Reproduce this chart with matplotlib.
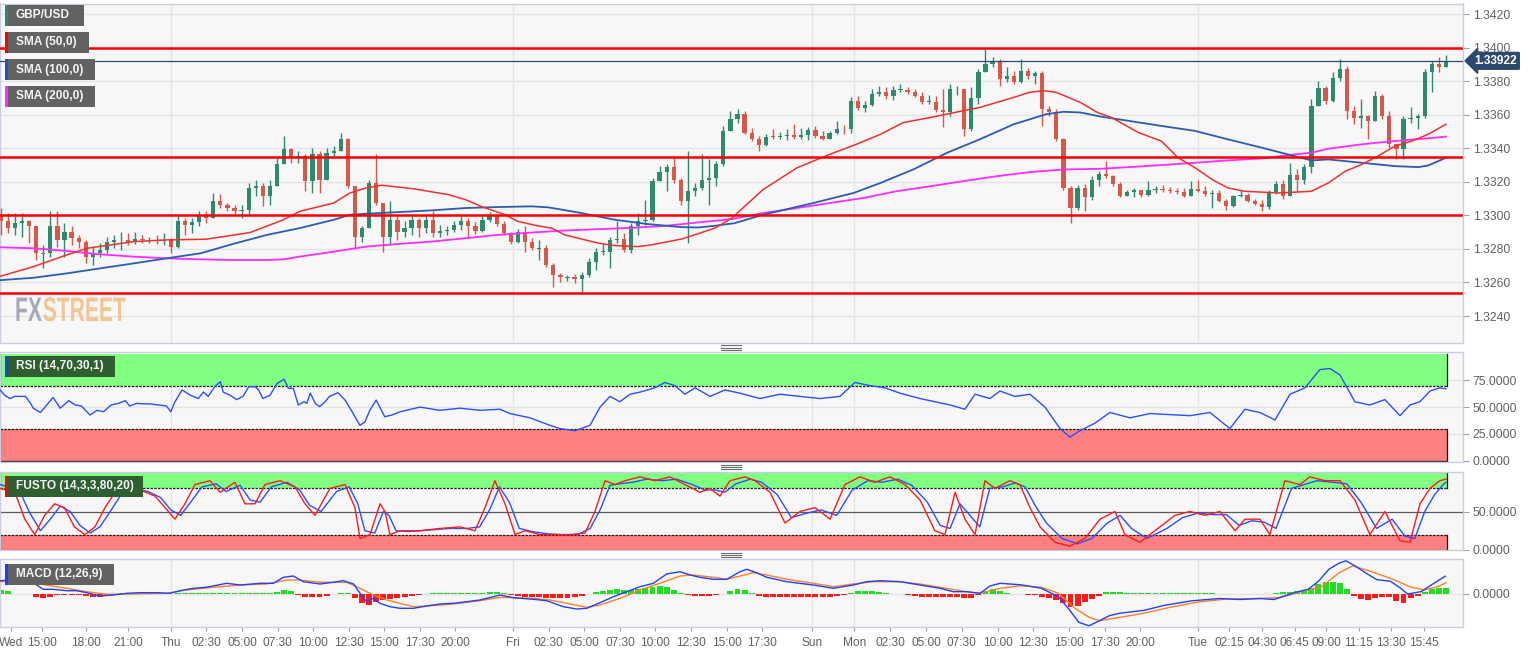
import numpy as np
import matplotlib.pyplot as plt
from matplotlib.patches import Rectangle, PathPatch
from matplotlib.lines import Line2D
from matplotlib.textpath import TextPath
from matplotlib.font_manager import FontProperties
from matplotlib.transforms import Affine2D

plt.rcParams['font.family'] = ['Liberation Sans', 'DejaVu Sans']

# ---- data -----------------------------------------------------------------
# chart hours: Thu 00:00 = 24 (weekend removed), 30-min candles
t_start, step = 12.0, 0.5
open_first = 1.32994
close = [
    1.32964, 1.32924, 1.32954, 1.32964, 1.32934, 1.32774, 1.32774, 1.32934, 1.32854, 1.32904,
    1.32864, 1.32844, 1.32754, 1.32774, 1.32794, 1.32844, 1.32854, 1.32854, 1.32844, 1.32858,
    1.32854, 1.32854, 1.32850, 1.32854, 1.32814, 1.32964, 1.32944, 1.32958, 1.32994, 1.32984,
    1.33084, 1.33064, 1.33044, 1.33024, 1.33034, 1.33164, 1.33174, 1.33114, 1.33174, 1.33304,
    1.33394, 1.33344, 1.33354, 1.33204, 1.33364, 1.33214, 1.33374, 1.33384, 1.33454, 1.33174,
    1.32874, 1.32924, 1.33194, 1.33074, 1.32874, 1.32974, 1.32904, 1.32924, 1.32974, 1.32924,
    1.32974, 1.32894, 1.32910, 1.32914, 1.32944, 1.32964, 1.32934, 1.32910, 1.32974, 1.32994,
    1.32950, 1.32894, 1.32844, 1.32904, 1.32844, 1.32804, 1.32804, 1.32704, 1.32644, 1.32630,
    1.32630, 1.32618, 1.32644, 1.32724, 1.32784, 1.32784, 1.32854, 1.32858, 1.32794, 1.32934,
    1.32964, 1.32974, 1.33204, 1.33258, 1.33290, 1.33214, 1.33084, 1.33144, 1.33164, 1.33214,
    1.33224, 1.33304, 1.33504, 1.33574, 1.33604, 1.33494, 1.33458, 1.33418, 1.33470, 1.33468,
    1.33474, 1.33478, 1.33470, 1.33480, 1.33510, 1.33474, 1.33458, 1.33490, 1.33518, 1.33514,
    1.33684, 1.33638, 1.33660, 1.33724, 1.33738, 1.33710, 1.33750, 1.33750, 1.33738, 1.33714,
    1.33678, 1.33678, 1.33628, 1.33618, 1.33754, 1.33754, 1.33518, 1.33698, 1.33854, 1.33904,
    1.33914, 1.33814, 1.33830, 1.33798, 1.33864, 1.33830, 1.33850, 1.33634, 1.33618, 1.33454,
    1.33164, 1.33044, 1.33164, 1.33110, 1.33214, 1.33250, 1.33238, 1.33190, 1.33118, 1.33138,
    1.33150, 1.33124, 1.33150, 1.33158, 1.33154, 1.33148, 1.33140, 1.33114, 1.33160, 1.33148,
    1.33130, 1.33134, 1.33088, 1.33054, 1.33114, 1.33124, 1.33088, 1.33070, 1.33048, 1.33140,
    1.33190, 1.33114, 1.33244, 1.33210, 1.33290, 1.33654, 1.33758, 1.33684, 1.33818, 1.33874,
    1.33624, 1.33584, 1.33590, 1.33564, 1.33710, 1.33590, 1.33424, 1.33398, 1.33574, 1.33584,
    1.33590, 1.33854, 1.33904, 1.33884, 1.33922,
]
high = [
    1.33044, 1.33014, 1.33014, 1.33014, 1.32974, 1.32904, 1.32824, 1.33024, 1.33024, 1.32954,
    1.32934, 1.32884, 1.32854, 1.32814, 1.32834, 1.32874, 1.32884, 1.32904, 1.32894, 1.32904,
    1.32884, 1.32874, 1.32884, 1.32894, 1.32864, 1.33004, 1.32984, 1.32984, 1.33024, 1.33024,
    1.33134, 1.33130, 1.33074, 1.33064, 1.33064, 1.33194, 1.33214, 1.33194, 1.33214, 1.33344,
    1.33474, 1.33404, 1.33384, 1.33364, 1.33404, 1.33384, 1.33404, 1.33414, 1.33490, 1.33464,
    1.33174, 1.32934, 1.33214, 1.33364, 1.33074, 1.33084, 1.32994, 1.32964, 1.33004, 1.32984,
    1.33004, 1.33024, 1.32944, 1.32938, 1.32964, 1.32994, 1.32984, 1.32958, 1.32994, 1.33018,
    1.33004, 1.32964, 1.32904, 1.32918, 1.32934, 1.32864, 1.32854, 1.32824, 1.32714, 1.32654,
    1.32644, 1.32648, 1.32664, 1.32744, 1.32804, 1.32838, 1.32874, 1.32964, 1.32894, 1.32954,
    1.33014, 1.33094, 1.33224, 1.33294, 1.33304, 1.33354, 1.33224, 1.33384, 1.33194, 1.33364,
    1.33334, 1.33324, 1.33534, 1.33624, 1.33634, 1.33624, 1.33524, 1.33474, 1.33484, 1.33514,
    1.33498, 1.33514, 1.33544, 1.33524, 1.33530, 1.33534, 1.33504, 1.33504, 1.33564, 1.33538,
    1.33704, 1.33710, 1.33684, 1.33754, 1.33774, 1.33764, 1.33774, 1.33784, 1.33764, 1.33754,
    1.33734, 1.33718, 1.33714, 1.33754, 1.33784, 1.33774, 1.33744, 1.33764, 1.33874, 1.33994,
    1.33944, 1.33934, 1.33884, 1.33864, 1.33934, 1.33878, 1.33864, 1.33864, 1.33654, 1.33634,
    1.33464, 1.33178, 1.33184, 1.33190, 1.33234, 1.33264, 1.33324, 1.33244, 1.33198, 1.33154,
    1.33164, 1.33154, 1.33204, 1.33174, 1.33184, 1.33168, 1.33164, 1.33164, 1.33204, 1.33214,
    1.33178, 1.33154, 1.33150, 1.33098, 1.33124, 1.33154, 1.33134, 1.33100, 1.33090, 1.33154,
    1.33204, 1.33214, 1.33314, 1.33274, 1.33304, 1.33694, 1.33804, 1.33774, 1.33854, 1.33934,
    1.33894, 1.33654, 1.33694, 1.33598, 1.33744, 1.33724, 1.33624, 1.33424, 1.33594, 1.33644,
    1.33604, 1.33874, 1.33924, 1.33944, 1.33954,
]
low = [
    1.32884, 1.32894, 1.32884, 1.32874, 1.32834, 1.32734, 1.32684, 1.32754, 1.32814, 1.32754,
    1.32824, 1.32804, 1.32714, 1.32704, 1.32754, 1.32774, 1.32804, 1.32794, 1.32824, 1.32830,
    1.32834, 1.32834, 1.32830, 1.32824, 1.32774, 1.32804, 1.32884, 1.32894, 1.32934, 1.32954,
    1.32984, 1.33044, 1.33024, 1.32994, 1.32984, 1.33004, 1.33114, 1.33054, 1.33064, 1.33174,
    1.33314, 1.33314, 1.33314, 1.33144, 1.33134, 1.33134, 1.33214, 1.33354, 1.33384, 1.33164,
    1.32798, 1.32844, 1.32924, 1.33064, 1.32784, 1.32824, 1.32854, 1.32874, 1.32884, 1.32874,
    1.32894, 1.32874, 1.32874, 1.32884, 1.32904, 1.32914, 1.32874, 1.32890, 1.32904, 1.32958,
    1.32934, 1.32884, 1.32830, 1.32838, 1.32784, 1.32794, 1.32734, 1.32694, 1.32574, 1.32604,
    1.32610, 1.32598, 1.32544, 1.32634, 1.32674, 1.32764, 1.32684, 1.32834, 1.32784, 1.32774,
    1.32884, 1.32944, 1.32964, 1.33204, 1.33144, 1.33194, 1.33064, 1.32834, 1.33114, 1.33154,
    1.33064, 1.33174, 1.33294, 1.33504, 1.33554, 1.33484, 1.33444, 1.33384, 1.33414, 1.33454,
    1.33458, 1.33450, 1.33458, 1.33458, 1.33450, 1.33462, 1.33448, 1.33454, 1.33484, 1.33488,
    1.33494, 1.33630, 1.33618, 1.33654, 1.33710, 1.33694, 1.33688, 1.33734, 1.33724, 1.33704,
    1.33664, 1.33664, 1.33618, 1.33530, 1.33590, 1.33718, 1.33474, 1.33504, 1.33664, 1.33858,
    1.33884, 1.33774, 1.33794, 1.33784, 1.33790, 1.33814, 1.33784, 1.33534, 1.33594, 1.33444,
    1.33154, 1.32954, 1.33034, 1.33024, 1.33094, 1.33174, 1.33224, 1.33174, 1.33110, 1.33114,
    1.33110, 1.33110, 1.33118, 1.33134, 1.33138, 1.33134, 1.33128, 1.33108, 1.33118, 1.33138,
    1.33118, 1.33044, 1.33078, 1.33034, 1.33048, 1.33108, 1.33078, 1.33060, 1.33024, 1.33038,
    1.33130, 1.33098, 1.33158, 1.33138, 1.33190, 1.33254, 1.33674, 1.33664, 1.33674, 1.33804,
    1.33574, 1.33544, 1.33524, 1.33454, 1.33564, 1.33574, 1.33404, 1.33334, 1.33338, 1.33554,
    1.33514, 1.33584, 1.33734, 1.33854, 1.33904,
]

# moving averages (hour, price)
sma50_t = [12.0, 14.3, 16.65, 18.1, 21.4, 23.7, 26.5, 29.6, 31.95, 33.1, 35.5, 36.65, 37.8, 38.9,
           41.2, 43.6, 44.8, 45.9, 47.6, 48.5, 49.9, 50.9, 51.8, 54.2, 55.35, 57.0, 57.9, 60.1,
           62.4, 63.6, 65.8, 68.2, 70.5, 72.2, 74.1, 75.7, 77.6, 79.9, 81.1, 83.5, 84.6, 85.6,
           86.5, 88.2, 89.4, 90.4, 92.3, 93.9, 95.1, 96.3, 97.5, 98.6, 99.8, 102.2, 104.5, 105.7,
           106.9, 108.05, 109.2, 110.4, 111.6, 112.75, 114.0]
sma50_v = [1.32638, 1.32694, 1.32764, 1.32804, 1.32844, 1.32854, 1.32858, 1.32898, 1.32974, 1.33024,
           1.33074, 1.33134, 1.33164, 1.33180, 1.33158, 1.33124, 1.33094, 1.33054, 1.33004, 1.32964,
           1.32938, 1.32924, 1.32884, 1.32834, 1.32820, 1.32814, 1.32824, 1.32860, 1.32924, 1.32984,
           1.33154, 1.33284, 1.33364, 1.33418, 1.33484, 1.33554, 1.33584, 1.33624, 1.33644, 1.33704,
           1.33734, 1.33744, 1.33734, 1.33674, 1.33614, 1.33584, 1.33494, 1.33444, 1.33344, 1.33284,
           1.33214, 1.33164, 1.33144, 1.33134, 1.33144, 1.33194, 1.33264, 1.33304, 1.33354, 1.33414,
           1.33444, 1.33484, 1.33544]
sma100_t = [12.0, 14.3, 16.65, 19.0, 21.4, 23.7, 26.1, 28.4, 30.8, 33.1, 35.5, 36.65, 37.8, 40.1,
            42.4, 44.8, 47.1, 49.5, 50.65, 53.0, 55.35, 57.7, 60.1, 61.2, 62.4, 63.8, 65.8, 69.35,
            72.2, 74.1, 76.4, 78.8, 81.1, 83.5, 85.8, 87.0, 88.2, 89.6, 91.6, 93.9, 96.3, 98.6,
            101.0, 103.3, 104.5, 105.7, 108.05, 110.4, 112.05, 112.75, 114.0]
sma100_v = [1.32614, 1.32628, 1.32654, 1.32684, 1.32714, 1.32744, 1.32774, 1.32830, 1.32884, 1.32924,
            1.32974, 1.33004, 1.33010, 1.33020, 1.33030, 1.33044, 1.33050, 1.33054, 1.33048, 1.33014,
            1.32974, 1.32948, 1.32930, 1.32928, 1.32938, 1.32954, 1.33004, 1.33074, 1.33134, 1.33194,
            1.33274, 1.33374, 1.33454, 1.33544, 1.33604, 1.33618, 1.33614, 1.33590, 1.33564, 1.33534,
            1.33504, 1.33454, 1.33404, 1.33354, 1.33328, 1.33334, 1.33314, 1.33294, 1.33288, 1.33298,
            1.33344]
sma200_t = [12.0, 14.3, 16.65, 19.0, 21.4, 23.7, 26.1, 28.4, 30.8, 31.95, 33.1, 35.5, 37.8, 40.1,
            42.4, 44.8, 47.1, 49.5, 51.8, 54.2, 56.5, 58.9, 61.2, 63.6, 65.8, 68.2, 70.5, 72.9,
            75.2, 77.6, 79.9, 82.3, 84.6, 87.0, 89.6, 91.6, 93.9, 96.3, 98.6, 101.0, 103.3, 104.5,
            105.7, 108.05, 110.4, 112.75, 114.0]
sma200_v = [1.32810, 1.32804, 1.32788, 1.32768, 1.32754, 1.32744, 1.32738, 1.32734, 1.32734, 1.32738,
            1.32754, 1.32784, 1.32814, 1.32830, 1.32844, 1.32864, 1.32884, 1.32898, 1.32910, 1.32918,
            1.32926, 1.32938, 1.32958, 1.32978, 1.33014, 1.33044, 1.33074, 1.33104, 1.33144, 1.33174,
            1.33204, 1.33234, 1.33258, 1.33274, 1.33278, 1.33288, 1.33300, 1.33314, 1.33328, 1.33340,
            1.33364, 1.33374, 1.33398, 1.33424, 1.33444, 1.33460, 1.33470]

levels = [1.3400, 1.3335, 1.3300, 1.3254]
last_price = 1.33922

# RSI (14)
rsi_t = [11.95, 12.3, 12.65, 13.0, 13.4, 13.75, 14.1, 14.3, 14.8, 15.25, 15.7, 16.2, 16.8, 17.25,
         17.7, 18.3, 18.8, 19.25, 19.8, 20.3, 20.8, 21.1, 21.6, 22.1, 22.55, 23.1, 23.7, 24.0,
         24.3, 24.8, 25.4, 25.95, 26.3, 26.65, 27.1, 27.5, 27.7, 28.2, 28.65, 29.1, 29.5, 29.95,
         30.2, 30.5, 31.0, 31.5, 32.0, 32.3, 32.65, 33.0, 33.4, 33.6, 33.85, 34.2, 34.5, 34.9,
         35.2, 35.8, 36.3, 36.8, 37.35, 37.7, 38.05, 38.5, 39.1, 39.6, 40.2, 41.59, 43.0, 44.41,
         45.82, 47.24, 47.94, 48.65, 49.35, 50.76, 51.47, 52.53, 53.59, 54.3, 55.0, 55.7, 56.41,
         57.12, 58.17, 58.88, 59.59, 60.29, 61.0, 62.06, 63.11, 64.17, 65.58, 66.99, 68.41, 69.82,
         71.23, 72.29, 73.35, 74.41, 75.47, 76.88, 77.93, 79.0, 80.05, 80.76, 81.82, 82.52, 83.58,
         84.64, 85.7, 86.76, 87.46, 88.17, 89.23, 90.28, 91.7, 93.11, 94.52, 95.93, 97.34, 98.75,
         99.81, 100.87, 101.93, 102.99, 104.05, 105.1, 105.81, 106.52, 107.57, 108.63, 109.69,
         110.75, 111.46, 112.16, 112.87, 113.57, 114.0]
rsi_v = [66, 61, 58, 60, 60, 60, 53.5, 49, 45, 52, 59, 49, 56, 52,
         51, 42.6, 47, 45.7, 52, 53.5, 56, 51, 53.5, 53, 53, 52, 51, 45.7,
         55, 66, 61, 58, 64, 60, 69, 73.7, 64, 61, 57, 60, 69, 69,
         66, 58, 61, 72, 76, 67.5, 67.5, 52, 55, 53.5, 63, 53.5, 50.4, 55,
         60, 63.4, 56.6, 45.7, 33, 36, 47, 56.6, 41, 42.6, 45.7, 50, 47, 49,
         47, 48, 44, 42, 40, 33, 30, 28, 33, 50, 60, 55, 62,
         64, 68, 73, 70, 62, 68, 60, 66, 63, 58, 62, 60, 58,
         60, 73, 70, 68, 63, 58, 55, 52, 48, 62, 58, 65, 60,
         62, 50, 30, 22, 28, 35, 45, 40, 44, 43, 42, 45, 30,
         48, 45, 38, 62, 68, 85, 86, 80, 55, 52, 57,
         42, 52, 55, 65, 68, 67]

# Full stochastic (14,3,3): %K red, %D blue
stk_t = [11.95, 13.0, 13.7, 14.4, 15.1, 15.8, 16.5, 17.2, 17.95, 18.65, 19.36, 20.07, 20.77, 21.83,
         22.89, 23.6, 24.3, 25.0, 25.71, 26.77, 27.48, 28.53, 29.24, 29.95, 30.65, 31.71, 32.77,
         33.47, 34.18, 35.24, 36.3, 37.0, 37.36, 38.06, 38.77, 39.12, 39.47, 40.18, 41.59, 43.0,
         44.41, 45.47, 46.18, 46.88, 47.59, 48.3, 49.0, 50.06, 51.12, 52.18, 53.24, 53.94, 54.65,
         55.35, 56.06, 57.12, 58.17, 59.23, 60.29, 61.35, 62.06, 62.76, 63.47, 64.53, 65.23, 66.29,
         67.35, 68.41, 69.47, 70.53, 71.58, 72.64, 73.7, 74.76, 75.82, 76.88, 77.93, 78.64, 79.35,
         80.05, 80.76, 81.46, 82.17, 83.23, 83.93, 84.64, 85.35, 86.4, 87.46, 88.52, 89.58, 90.64,
         91.34, 92.4, 93.81, 94.87, 95.93, 96.99, 98.05, 99.11, 99.81, 100.87, 101.57, 102.63,
         103.69, 104.4, 105.46, 106.52, 107.57, 108.63, 109.69, 110.75, 111.46, 112.16, 112.87,
         113.57, 114.0]
stk_v = [80, 75, 40, 20, 45, 60, 55, 30, 20, 30, 55, 75, 80, 78,
         70, 55, 40, 60, 85, 90, 75, 88, 60, 60, 85, 90, 82,
         60, 45, 80, 85, 55, 15, 20, 60, 50, 20, 25, 25, 28,
         30, 25, 55, 90, 60, 20, 25, 20, 20, 20, 22, 50, 90,
         85, 90, 95, 90, 95, 85, 75, 80, 70, 90, 95, 90, 75,
         35, 50, 55, 40, 85, 95, 88, 95, 85, 65, 25, 20, 75,
         40, 20, 90, 80, 90, 85, 55, 30, 10, 5, 15, 40, 50,
         20, 10, 30, 45, 50, 45, 50, 25, 40, 40, 20, 90,
         85, 95, 90, 90, 65, 20, 50, 12, 10, 60, 80,
         90, 92]
std_t = [11.95, 13.3, 14.0, 14.8, 15.5, 16.2, 16.9, 17.6, 18.3, 19.0, 19.8, 20.5, 21.3, 22.4,
         23.3, 24.0, 24.7, 25.4, 26.2, 27.2, 27.9, 28.9, 29.6, 30.3, 31.1, 32.2, 33.1, 33.8,
         34.6, 35.7, 36.6, 37.2, 37.7, 38.4, 39.0, 39.4, 39.9, 40.8, 42.3, 43.7, 44.9, 45.8,
         46.5, 47.2, 47.9, 48.6, 49.5, 50.6, 51.6, 52.7, 53.6, 54.3, 55.0, 55.7, 56.6, 57.6,
         58.7, 59.7, 60.8, 61.7, 62.4, 63.1, 63.9, 64.9, 65.7, 66.8, 67.8, 68.9, 69.9, 71.0,
         72.1, 73.2, 74.2, 75.3, 76.3, 77.4, 78.3, 79.0, 79.7, 80.4, 81.1, 81.8, 82.7, 83.6,
         84.3, 85.0, 85.8, 86.9, 88.0, 89.0, 90.1, 91.0, 91.8, 92.9, 94.3, 95.4, 96.5, 97.5,
         98.5, 99.4, 100.3, 101.2, 102.0, 103.1, 104.0, 104.9, 106.0, 107.0, 108.0, 109.1,
         110.2, 111.1, 111.8, 112.5, 113.2, 113.8, 114.0]
std_v = [85, 78, 50, 25, 40, 57, 50, 32, 22, 30, 52, 72, 80, 76,
         68, 52, 45, 62, 82, 86, 76, 84, 65, 62, 82, 88, 78, 58,
         50, 76, 82, 60, 25, 22, 50, 45, 25, 24, 26, 28, 28, 30,
         52, 82, 62, 28, 24, 21, 20, 20, 28, 52, 84, 86, 88, 92,
         90, 92, 85, 78, 78, 75, 86, 92, 88, 72, 42, 48, 52, 45,
         78, 90, 88, 92, 84, 62, 32, 28, 60, 45, 30, 80, 82, 87,
         82, 58, 35, 15, 8, 15, 35, 45, 28, 15, 28, 42, 48, 46,
         46, 32, 38, 36, 28, 80, 85, 90, 88, 86, 62, 28,
         40, 18, 15, 50, 72, 85, 88]

# MACD (12,26,9) in points (1e-5)
macd_t = [11.95, 12.65, 13.85, 14.54, 15.0, 15.7, 16.65, 17.36, 18.07, 19.0, 19.95, 20.9, 21.83,
          23.0, 23.95, 24.65, 25.6, 26.5, 27.95, 28.9, 30.3, 31.24, 31.95, 32.65, 33.36, 34.53,
          35.47, 36.18, 36.9, 37.36, 37.83, 38.3, 38.77, 39.47, 40.18, 41.12, 42.06, 43.0, 43.94,
          44.88, 45.82, 46.77, 47.24, 48.18, 49.59, 50.53, 51.71, 52.65, 53.36, 54.3, 55.24, 56.18,
          57.12, 58.06, 59.0, 59.94, 60.65, 61.35, 62.3, 63.24, 64.18, 64.65, 65.35, 66.06, 67.47,
          69.35, 70.76, 72.17, 73.12, 74.06, 75.47, 76.88, 78.29, 79.23, 80.17, 81.11, 81.82, 82.53,
          83.98, 85.43, 86.64, 87.36, 88.09, 88.81, 89.54, 90.26, 90.99, 92.68, 94.13, 96.06, 98.0,
          99.45, 100.9, 101.86, 103.31, 104.28, 105.0, 105.73, 106.45, 106.94, 107.66, 108.39,
          109.11, 110.08, 110.8, 111.29, 112.25, 112.98, 113.95]
macd_v = [26.6, 28, 28, 18, 9.4, 9.4, 6.6, 6.6, 2.6, -4, -2, 1.4, 2.6,
          2.6, 1.4, 6.6, 11.4, 13.4, 21.4, 18, 21.4, 21.4, 33.4, 36, 24.6, 20,
          23.4, 26.6, 20, 1.4, -15.4, -8.6, -18.6, -25.4, -28.6, -28.6, -24, -20, -18.6,
          -15.4, -12, -5.4, -2, -7.4, -10.6, -13.4, -25.4, -30, -28.6, -17.4, -5.4, 4.6,
          14.6, 21.4, 40, 44.6, 38, 33.4, 29.4, 29.4, 44.6, 49.4, 42.6, 33.4, 24.6,
          18, 11.4, 18, 24.6, 26.6, 24.6, 18, 11.4, 4.6, 4.6, 1.4, 16, 21.4,
          18.4, 11.6, -5.4, -29.4, -56.8, -63.6, -53.4, -43.2, -38.4, -32.8, -22.6, -13.6, -9,
          -11, -9, -11, 2.8, 9.6, 25.4, 49.4, 61.6, 66.4, 54.8, 41,
          28.8, 25.4, 11.6, 0, 4.8, 18.4, 35.6]
signal_t = [11.95, 13.85, 14.77, 16.65, 18.07, 19.48, 20.9, 23.71, 25.12, 27.0, 28.9, 30.77, 32.18,
            33.12, 34.53, 36.42, 37.36, 38.06, 39.24, 41.12, 42.06, 43.94, 45.82, 47.24, 49.59,
            50.77, 51.94, 53.36, 54.3, 55.71, 57.12, 58.53, 59.94, 60.88, 62.3, 63.24, 64.18, 65.12,
            66.06, 67.47, 69.35, 70.76, 72.17, 73.59, 75.47, 76.88, 78.29, 80.17, 81.11, 82.53,
            83.98, 85.43, 86.64, 87.85, 88.81, 89.54, 90.99, 92.68, 94.61, 96.55, 98.48, 100.9,
            102.35, 103.8, 105.25, 106.45, 107.42, 108.63, 110.32, 111.53, 112.5, 113.46, 114.0]
signal_v = [24.6, 26.6, 20, 11.4, 4.6, -0.6, 0, 1.4, 8, 13.4, 18, 20, 28,
            28, 23.4, 23.4, 11.4, 1.4, -12, -25.4, -24, -20, -13.4, -6.6, -8.6,
            -12, -18.6, -26.6, -22, -8.6, 8, 21.4, 36, 38, 33.4, 29.4, 36, 42.6,
            38, 29.4, 21.4, 14.6, 20, 24.6, 24.6, 20, 13.4, 4.6, 1.4, 11.4,
            16.4, 13.6, 1.4, -29.4, -46.6, -53.4, -46.6, -38.4, -26, -15.8, -10.2, -9,
            -6.8, 4.8, 15, 42.4, 56.2, 45.8, 28.8, 13.6, 8.2, 15, 22.6]
hist = [
    8, 6, 1, 1, 1, -6, -8.6, -6, -2, -2,
    -2, -2, -4, -5.4, -5.4, -4, 1, 1.4, 1.4, 1.4,
    1.4, 1.4, 1.4, 1.4, 1, 2, 3, 3, 3, 3,
    3, 3, 3, 1.4, 1.4, 1.4, 1.4, 1.4, 1.4, 5,
    8, 7, -2, -5.4, -5.4, -5, -4, 1, 2, 2,
    -8, -18, -22, -16, -12, -10, -8, -5.4, -4, -2,
    1, 2, 3, 3, 3, 3, 3, 3, 3, 4,
    4, 2, -1, -3, -5, -6, -6.6, -7, -8, -8.6,
    -8, -6, -4, 1, 4, 6, 8, 9.4, 9, 8,
    10, 12, 14, 16, 14, 8, 2, -1, -3, -4,
    -4, -2, 1, 6, 9.4, 8, 2, -3, -5.4, -5.4,
    -5.4, -5.4, -5.4, -5, -5, -5, -5, -5, -4, -2,
    3, 6, 6, 6, 5, 3, 0.6, 0.4, -1, -4,
    -5.4, -6.6, -6.6, -6.6, -6, -5, -8, -8.6, -2, 6,
    9.4, 6, 2, 1, -0.6, -1, -1, -6, -8.6, -12,
    -18.6, -25.4, -24, -16, -10, -4, 4, 4, 3.6, 3,
    3, 3, 3, 3, 3, 3, 2.6, 2.4, 2, 2,
    1.6, 1.4, 1, 0.6, -0.6, 0.6, 0.6, 0.6, -0.6, 0.6,
    3, 4, 4, 6, 8, 12, 20, 24.6, 24, 22,
    10, -4, -10, -12, -8, -6, -6, -14, -17.4, -8,
    -4, 4, 10, 12.6, 12.6,
]

tick_t = [12.73, 14.94, 18.0, 21.0, 24.0, 26.51, 29.03, 31.55, 34.06, 36.58, 39.07, 41.59, 44.08,
          48.14, 50.68, 53.19, 55.71, 58.2, 60.7, 63.24, 65.75, 69.28, 72.24, 74.76, 77.3, 79.82,
          82.38, 84.87, 87.41, 89.9, 92.43, 96.47, 98.72, 101.02, 103.31, 105.56, 107.85, 110.13,
          112.42]
tick_lab = ['Wed', '15:00', '18:00', '21:00', 'Thu', '02:30', '05:00', '07:30', '10:00', '12:30',
            '15:00', '17:30', '20:00', 'Fri', '02:30', '05:00', '07:30', '10:00', '12:30', '15:00',
            '17:30', 'Sun', 'Mon', '02:30', '05:00', '07:30', '10:00', '12:30', '15:00', '17:30',
            '20:00', 'Tue', '02:15', '04:30', '06:45', '09:00', '11:15', '13:30', '15:45']
day_t = [24.0, 48.14, 69.28, 72.24, 96.47]

# ---- figure ---------------------------------------------------------------
W, H = 1534, 653
fig = plt.figure(figsize=(W / 100, H / 100), dpi=100)


def rect(x0, y0, x1, y1):
    return [x0 / W, 1 - y1 / H, (x1 - x0) / W, (y1 - y0) / H]


ax = fig.add_axes(rect(0, 3.5, 1463, 343))
ax_rsi = fig.add_axes(rect(0, 352, 1463, 462), sharex=ax)
ax_sto = fig.add_axes(rect(0, 472, 1463, 550), sharex=ax)
ax_macd = fig.add_axes(rect(0, 559, 1463, 627), sharex=ax)

x_lo, x_hi, x_end = 11.95, 115.2, 114.05
grid_c = '#e4e4e4'
txt_c = '#606060'
for a in (ax, ax_rsi, ax_sto, ax_macd):
    a.set_facecolor('#f7f7f7')
    for s in a.spines.values():
        s.set_color('#c9cee0')
        s.set_linewidth(1)
    a.yaxis.tick_right()
    a.tick_params(axis='y', length=4, width=0.8, color='#9ba1b5',
                  labelcolor=txt_c, labelsize=8.8, pad=3)
    a.tick_params(axis='x', length=0, labelbottom=False)
    for d in day_t:
        a.axvline(d, color=grid_c, lw=1, zorder=0)
ax.set_xlim(x_lo, x_hi)

# ---- price panel ------------------------------------------------------------
t = t_start + step * np.arange(len(close))
c = np.array(close)
o = np.r_[open_first, c[:-1]]
hi = np.maximum(np.array(high), np.maximum(o, c))
lo = np.minimum(np.array(low), np.minimum(o, c))
up = c >= o
col = np.where(up, '#2f8a6d', '#d5584a')
ax.vlines(t, lo, hi, colors=col, lw=1, zorder=3)
flat = np.abs(c - o) < 0.00003
ax.bar(t, np.where(flat, 0.00003, c - o), bottom=np.where(flat, o - 0.000015, o),
       width=0.3, color=col, zorder=4)

ax.plot(sma200_t, sma200_v, color='#ff2bff', lw=1.3, zorder=5)
ax.plot(sma100_t, sma100_v, color='#2a5db0', lw=1.3, zorder=5)
ax.plot(sma50_t, sma50_v, color='#f03030', lw=1.1, zorder=5)
for lv in levels:
    ax.axhline(lv, color='#ff0000', lw=1.8, zorder=6)
ax.axhline(last_price, color='#2b4a70', lw=0.9, zorder=6)

ax.set_ylim(1.32239, 1.34264)
yt = np.arange(1.3240, 1.34201, 0.002)
ax.set_yticks(yt)
ax.set_yticklabels([f'{v:.4f}' for v in yt])
ax.grid(axis='y', color=grid_c, lw=1, zorder=0)
ax.set_axisbelow(True)
ax.annotate(f'{last_price:.5f}', xy=(1.0, last_price), xycoords=('axes fraction', 'data'),
            xytext=(8, 0), textcoords='offset points', va='center', ha='left',
            color='white', fontsize=8.6, fontweight='bold', annotation_clip=False,
            bbox=dict(boxstyle='larrow,pad=0.2', fc='#2c4a70', ec='#2c4a70'))

# watermark, drawn as condensed outlines
px = Affine2D().scale(1 / 100) + fig.dpi_scale_trans
logo_fp = FontProperties(family='Liberation Sans', weight='bold')
x_pos = 15
for word, colr in (('FX', '#a6a9b5'), ('STREET', '#f3c592')):
    path = TextPath((0, 0), word, size=34, prop=logo_fp)
    tr = Affine2D().scale(0.62, 1).translate(x_pos, H - 321) + px
    fig.add_artist(PathPatch(path, transform=tr, fc=colr, ec='none', zorder=1))
    x_pos += path.get_extents().x1 * 0.62 + 1


def zones(a, top, up_lv, dn_lv, bottom):
    w = x_end - x_lo
    a.add_patch(Rectangle((x_lo, up_lv), w, top - up_lv, fc='#80ff80', ec='none', zorder=1))
    a.add_patch(Rectangle((x_lo, bottom), w, dn_lv - bottom, fc='#ff8080', ec='none', zorder=1))
    kw = dict(color='#1a1a1a', lw=0.9, zorder=2)
    for y0, y1 in ((up_lv, top), (bottom, dn_lv)):
        a.plot([x_lo, x_lo], [y0, y1], **kw)
        a.plot([x_end, x_end], [y0, y1], **kw)
    a.plot([x_lo, x_end], [bottom, bottom], **kw)
    a.plot([x_lo, x_end], [up_lv, up_lv], ls=(0, (2, 1)), **kw)
    a.plot([x_lo, x_end], [dn_lv, dn_lv], ls=(0, (2, 1)), **kw)


# ---- RSI ----------------------------------------------------------------------
ax_rsi.set_ylim(-1.2, 101.4)
ax_rsi.set_yticks([0, 25, 50, 75])
ax_rsi.set_yticklabels(['0.0000', '25.0000', '50.0000', '75.0000'])
for g in (25, 50, 75):
    ax_rsi.axhline(g, color=grid_c, lw=1, zorder=0)
zones(ax_rsi, 100, 70, 30, 0)
ax_rsi.plot(rsi_t, rsi_v, color='#2a4fff', lw=1, zorder=3)

# ---- Stochastic ------------------------------------------------------------
ax_sto.set_ylim(0, 101.3)
ax_sto.set_yticks([0, 50])
ax_sto.set_yticklabels(['0.0000', '50.0000'])
zones(ax_sto, 100, 80, 20, 0.5)
ax_sto.axhline(50, color='#5a5a5a', lw=0.9, zorder=2)
ax_sto.plot(std_t, std_v, color='#2a4fff', lw=1, zorder=3)
ax_sto.plot(stk_t, stk_v, color='#ff1a1a', lw=1, zorder=4)

# ---- MACD ---------------------------------------------------------------------
ax_macd.set_ylim(-66, 70)
ax_macd.set_yticks([0])
ax_macd.set_yticklabels(['0.0000'])
ax_macd.axhline(0, color=grid_c, lw=1, zorder=0)
hv = np.array(hist)
ax_macd.bar(t, hv, width=0.42, color=np.where(hv >= 0, '#1ee01e', '#ff1a1a'), zorder=2)
ax_macd.plot(signal_t, signal_v, color='#ff7f27', lw=1, zorder=3)
ax_macd.plot(macd_t, macd_v, color='#2140ff', lw=1, zorder=4)

ax_macd.set_xticks(tick_t)
ax_macd.set_xticklabels(tick_lab)
ax_macd.tick_params(axis='x', length=3, width=0.8, color='#9ba1b5', labelbottom=True,
                    labelsize=8.6, labelcolor=txt_c, pad=4)
ax_macd.set_xlim(x_lo, x_hi)

# ---- legend tags ------------------------------------------------------------


def tag(x0, y0, x1, y1, face, stripe, text):
    fig.add_artist(Rectangle((x0 / W, 1 - y1 / H), (x1 - x0) / W, (y1 - y0) / H,
                             transform=fig.transFigure, fc=face, ec='none', zorder=5))
    fig.add_artist(Rectangle((x0 / W, 1 - y1 / H), 2.5 / W, (y1 - y0) / H,
                             transform=fig.transFigure, fc=stripe, ec='none', zorder=6))
    fig.text((x0 + 11) / W, 1 - (y0 + y1) / 2 / H, text, color='#f4f4f4', fontsize=8.6,
             fontweight='bold', va='center', zorder=7)


tag(5, 5, 84, 25.7, '#626262', '#2f8a6d', 'GBP/USD')
tag(5, 32, 89, 52.7, '#626262', '#ff0000', 'SMA (50,0)')
tag(5, 59, 95, 80, '#626262', '#1f55b5', 'SMA (100,0)')
tag(5, 86, 95, 106.7, '#626262', '#ff2bff', 'SMA (200,0)')
tag(5, 356, 115, 376.7, '#2f5e30', '#1a3cff', 'RSI (14,70,30,1)')
tag(5, 476, 143, 496.5, '#2f5e30', '#ff0000', 'FUSTO (14,3,3,80,20)')
tag(5, 564, 114, 584.7, '#626262', '#1a3cff', 'MACD (12,26,9)')

# panel separators
for yc in (347.5, 467, 554.8):
    for dy in (-2.3, 0, 2.3):
        fig.add_artist(Line2D([721 / W, 741 / W], [1 - (yc + dy) / H] * 2,
                              transform=fig.transFigure, color='#6b6b6b', lw=0.8))

fig.savefig('out.png', dpi=100, facecolor='white')
